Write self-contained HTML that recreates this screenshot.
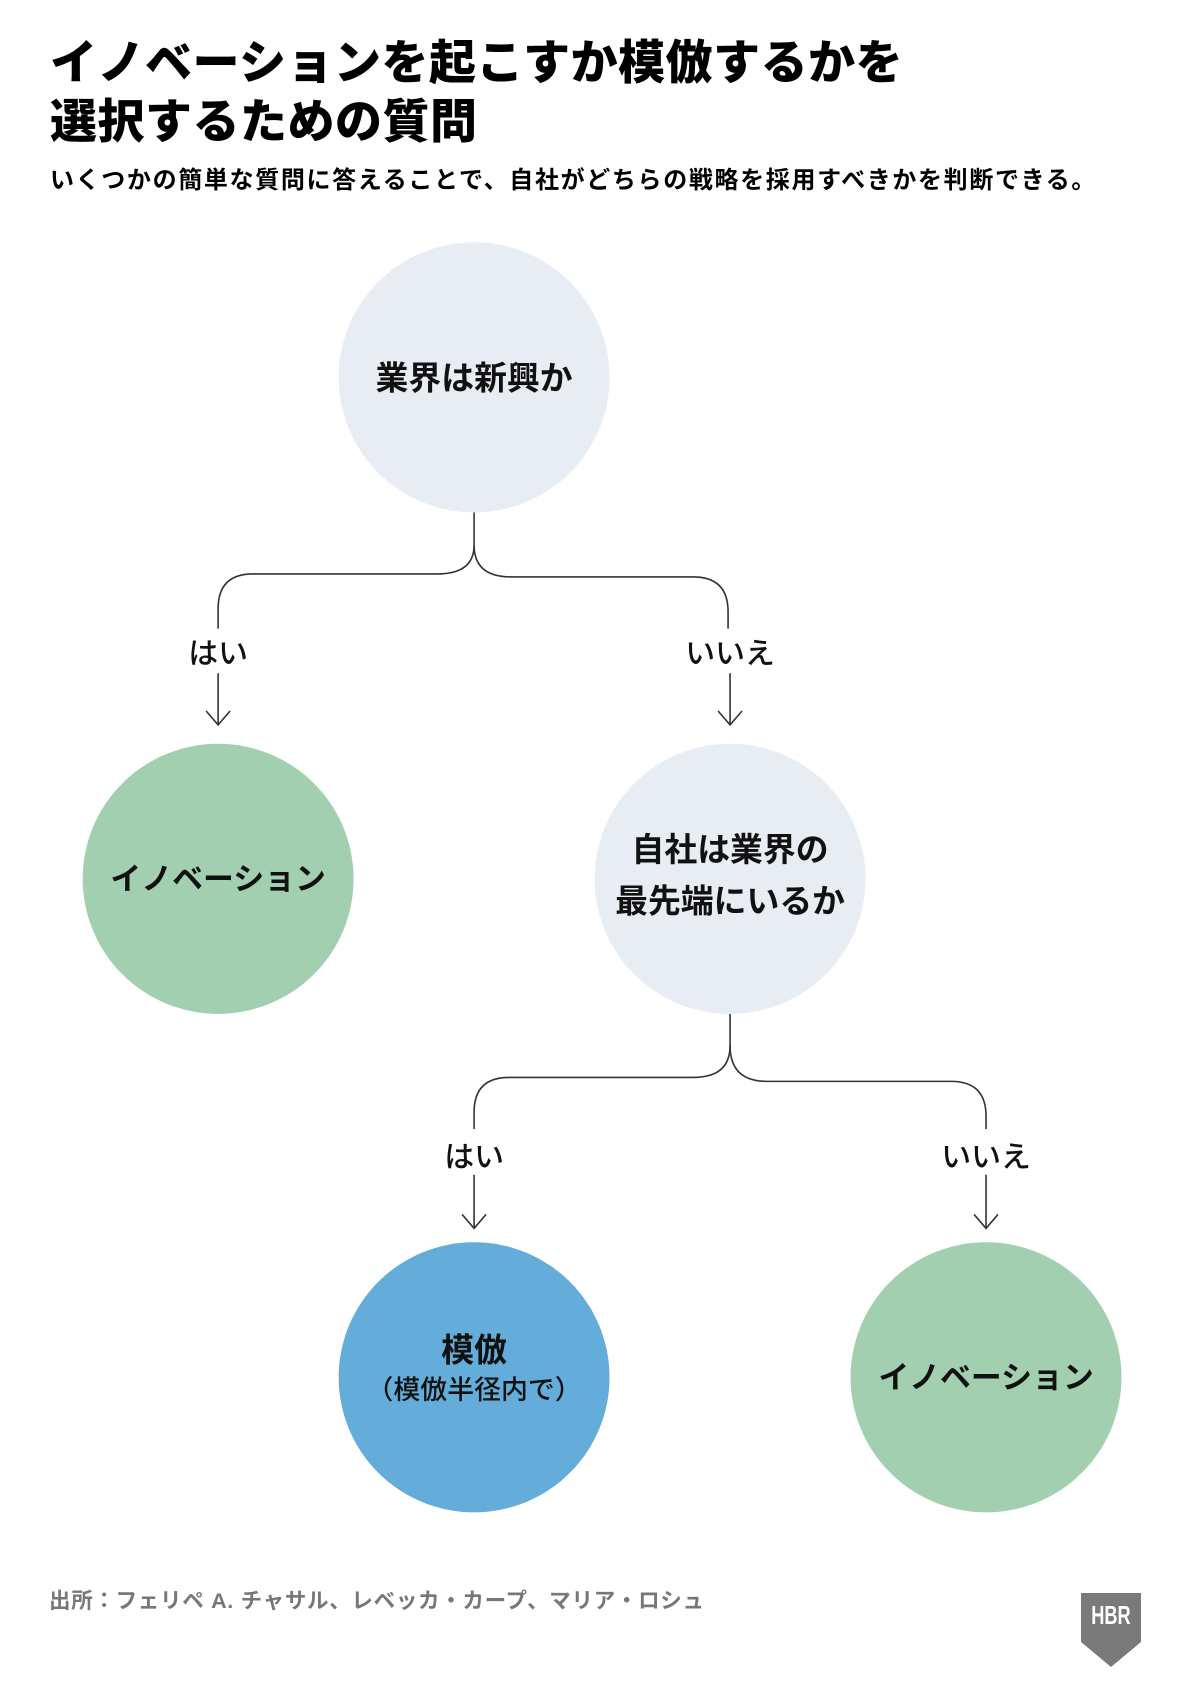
<!DOCTYPE html>
<html><head><meta charset="utf-8"><style>
html,body{margin:0;padding:0;background:#fff}
body{width:1200px;height:1700px;position:relative;overflow:hidden;font-family:"Liberation Sans","Noto Sans CJK JP",sans-serif}
.t{position:absolute;left:50px;font-weight:900;color:#000}
</style></head><body>
<div class="t" style="top:33px;font-size:47px;line-height:59px;letter-spacing:0.5px">イノベーションを起こすか模倣するかを<br>選択するための質問</div>
<div class="t" style="top:160px;font-size:24px;font-weight:700;letter-spacing:1.65px">いくつかの簡単な質問に答えることで、自社がどちらの戦略を採用すべきかを判断できる。</div>
<svg width="1200" height="1700" style="position:absolute;left:0;top:0" font-family="Liberation Sans, Noto Sans CJK JP, sans-serif">
<g transform="matrix(0.996 0 0 0.993 -1 1)">
<g fill="none" stroke="#333" stroke-width="1.6">
<path d="M477 515 V548 Q477 577 440 577 H255 Q220 577 220 612 V632"/>
<path d="M477 548 Q477 580 514 580 H697 Q732 580 732 615 V632"/>
<path d="M220 677 V728 M208 715 L220 729 L232 715"/>
<path d="M734 677 V728 M722 715 L734 729 L746 715"/>
<path d="M734 1020 V1052 Q734 1084 697 1084 H512 Q477 1084 477 1119 V1136"/>
<path d="M734 1052 Q734 1088 771 1088 H956 Q991 1088 991 1123 V1136"/>
<path d="M477 1182 V1235 M465 1222 L477 1236 L489 1222"/>
<path d="M991 1182 V1235 M979 1222 L991 1236 L1003 1222"/>
</g>
<circle cx="477" cy="379" r="136" fill="#e8edf3"/>
<circle cx="220" cy="884" r="136" fill="#a1cfb0"/>
<circle cx="734" cy="884" r="136" fill="#e8edf3"/>
<circle cx="477" cy="1386" r="136" fill="#64acd9"/>
<circle cx="991" cy="1386" r="136" fill="#a1cfb0"/>
<g text-anchor="middle" font-weight="700" fill="#111" font-size="33">
<text x="477" y="391">業界は新興か</text>
<text x="220" y="895" font-size="31">イノベーション</text>
<text x="734" y="866">自社は業界の</text>
<text x="734" y="918">最先端にいるか</text>
<text x="477" y="1370">模倣</text>
<text x="477" y="1408" font-weight="500" font-size="27">（模倣半径内で）</text>
<text x="991" y="1397" font-size="31">イノベーション</text>
</g>
<g text-anchor="middle" fill="#111" font-size="30" font-weight="500">
<text x="220" y="667">はい</text>
<text x="734" y="667">いいえ</text>
<text x="477" y="1174">はい</text>
<text x="991" y="1174">いいえ</text>
</g>
</g>
<text x="49" y="1618" font-size="21.5" font-weight="700" fill="#777" letter-spacing="0.7" transform="translate(0 -10)">出所：フェリペ A. チャサル、レベッカ・カープ、マリア・ロシュ</text>
<g transform="translate(-8 -8)">
<path d="M1089 1601 H1149 V1650 L1119 1675 L1089 1650 Z" fill="#7a7a7a"/>
<text x="1119" y="1632" text-anchor="middle" font-size="26" font-weight="700" fill="#fff" transform="translate(1119 0) scale(0.7 1) translate(-1119 0)">HBR</text>
</g>
</svg>
</body></html>
